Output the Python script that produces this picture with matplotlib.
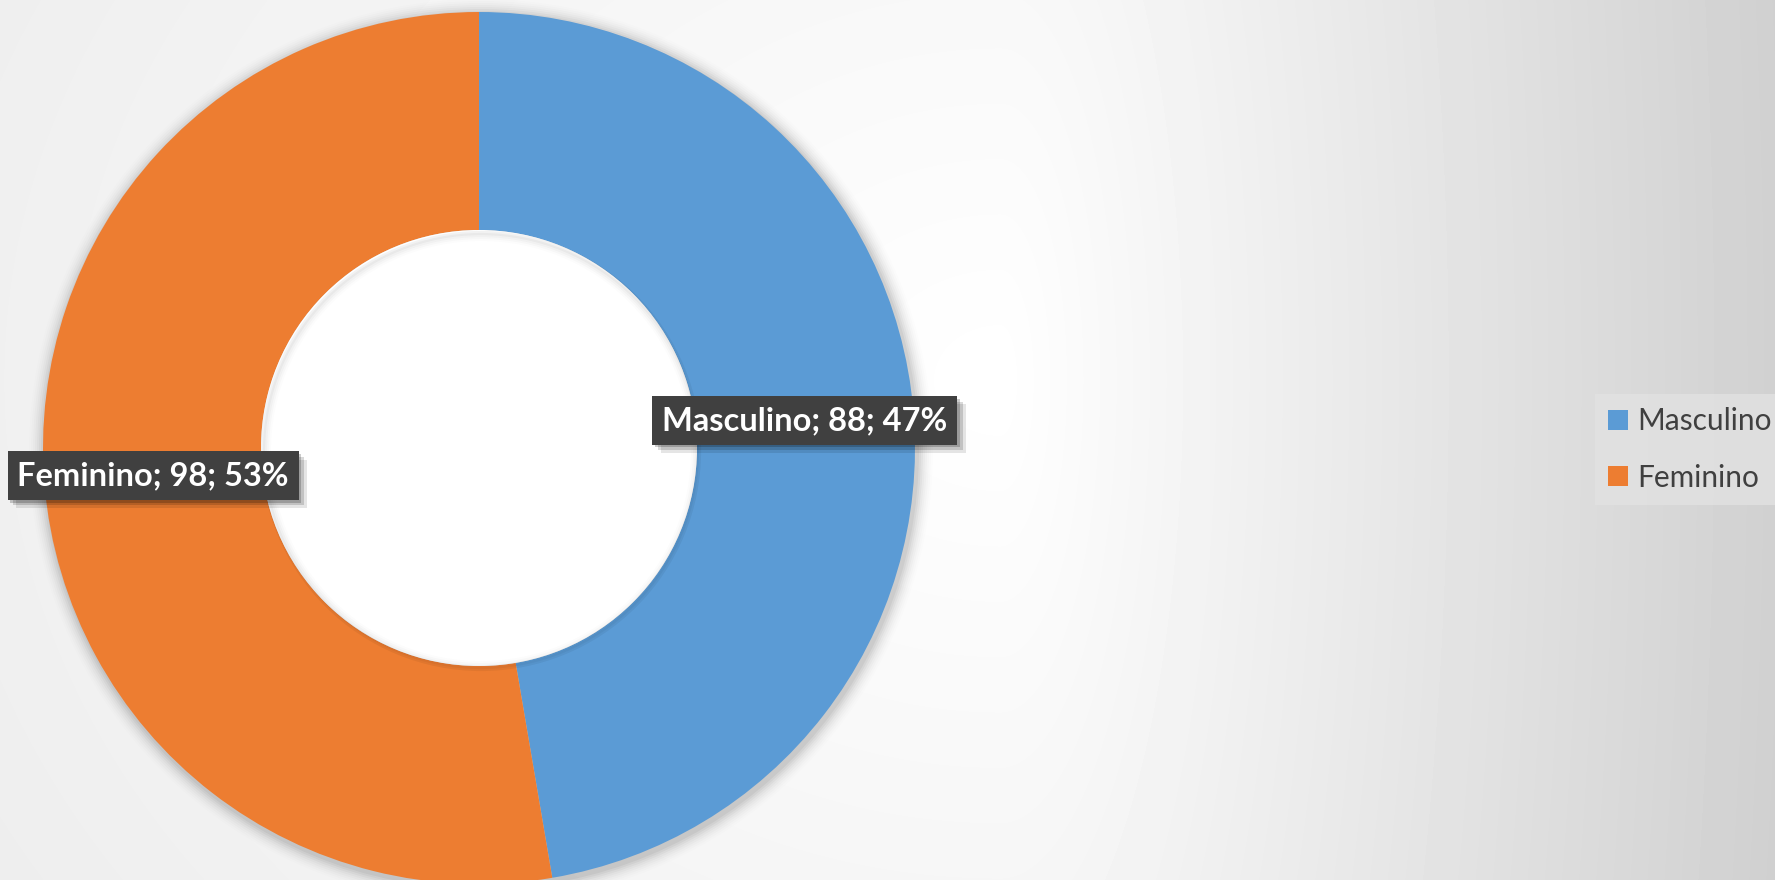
import matplotlib.pyplot as plt
import matplotlib.patheffects as pe
import numpy as np

categories = ['Masculino', 'Feminino']
values = [88, 98]
colors = ['#5B9BD5', '#ED7D31']

W, H = 1775, 880
fig = plt.figure(figsize=(W / 100, H / 100), dpi=100)
ax = fig.add_axes([0, 0, 1, 1])
ax.set_xlim(0, W)
ax.set_ylim(0, H)
ax.axis('off')

# background: soft off-center radial gradient, white near the middle, grey to the right
yy, xx = np.mgrid[0:H, 0:W]
cx, cy = 1000, 380
sx = np.where(xx > cx, 1.0, 0.25)
d = np.sqrt((sx * (xx - cx)) ** 2 + (0.3 * (yy - cy)) ** 2)
g = np.clip(255 - 0.06 * d, 0, 255) / 255
ax.imshow(g, cmap='gray', vmin=0, vmax=1, extent=[0, W, 0, H], origin='upper',
          zorder=0, aspect='auto')

center = (479, 432)
radius = 436
ring = 0.5

# soft shadow around the ring
for i, a in enumerate([0.04, 0.035, 0.03, 0.025, 0.02, 0.015, 0.01, 0.006]):
    ax.add_patch(plt.Circle((center[0] + 2, center[1] - 3), radius + 2 + 2 * i,
                            color='black', alpha=a, lw=0, zorder=1))

wedges, _ = ax.pie(values, colors=colors, startangle=90, counterclock=False,
                   center=center, radius=radius, frame=True,
                   wedgeprops=dict(width=radius * ring, linewidth=0, zorder=2))
ax.set_xlim(0, W)
ax.set_ylim(0, H)
ax.axis('off')

# white hole with a faint inner shadow
ax.add_patch(plt.Circle(center, radius * (1 - ring), color='white', lw=0, zorder=2.5))
for i, a in enumerate([0.05, 0.035, 0.02, 0.01]):
    ax.add_patch(plt.Circle((center[0] + 2, center[1] - 3), radius * (1 - ring) - 2 * i,
                            fill=False, ec='black', alpha=a, lw=3, zorder=2.6))

total = sum(values)
font = ['Lato', 'DejaVu Sans']
for w, cat, v in zip(wedges, categories, values):
    ang = np.deg2rad((w.theta1 + w.theta2) / 2)
    r = radius * (1 - ring / 2)
    x = center[0] + r * np.cos(ang)
    y = center[1] + r * np.sin(ang)
    label = f'{cat}; {v}; {round(100 * v / total)}%'
    t = ax.text(x, y, label, ha='center', va='center', fontsize=23.5, weight='bold',
                family=font, color='white', zorder=4,
                bbox=dict(boxstyle='square,pad=0.3', fc='#404040', ec='none'))
    # layered shadows to fake a blur
    t.get_bbox_patch().set_path_effects([
        pe.SimplePatchShadow(offset=(6, -6), shadow_rgbFace='black', alpha=0.1),
        pe.SimplePatchShadow(offset=(4, -4), shadow_rgbFace='black', alpha=0.15),
        pe.SimplePatchShadow(offset=(2, -2), shadow_rgbFace='black', alpha=0.2),
        pe.Normal()])

leg = ax.legend(wedges, categories, loc='upper left',
                bbox_to_anchor=(1595 / W, 486 / H), borderaxespad=0,
                frameon=True, fancybox=False,
                handlelength=0.65, handleheight=0.65, handletextpad=0.3,
                labelspacing=0.95, borderpad=0.45, prop=dict(family=font, size=21.5))
leg.get_frame().set_facecolor('#e2e2e2')
leg.get_frame().set_edgecolor('none')
leg.get_frame().set_alpha(0.8)
for t in leg.get_texts():
    t.set_color('#404040')

fig.savefig('out.png', dpi=100)
